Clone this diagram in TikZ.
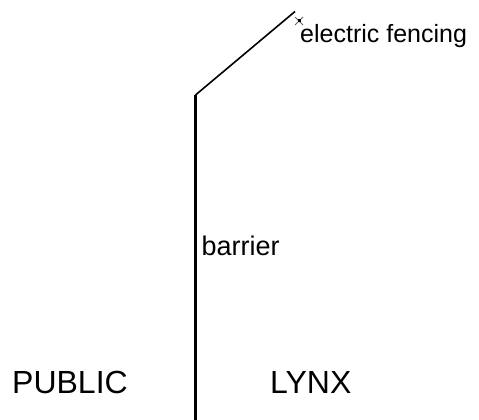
\documentclass[tikz,border=0pt]{standalone}
\usepackage{fontspec}
\setmainfont{Liberation Sans}
\usetikzlibrary{calc}
\begin{document}
\begin{tikzpicture}[x=1pt,y=-1pt,
  lbl/.style={inner sep=0pt,anchor=base west},
  wall/.style={line width=2.2pt,black},
  fence/.style={line width=1.6pt,black},
  markx/.style={line width=0.8pt,black!60}]
\useasboundingbox (0,0) rectangle (479,420);
\coordinate (bottom) at (195.5,420);
\coordinate (bend) at (195.5,95);
\coordinate (top) at (295,11.5);
\coordinate (mk) at (299,21);
\draw[wall] (bottom) -- (bend);
\draw[fence] (bend) -- (top);
\draw[markx] ($(mk)+(-4,-4)$) -- ($(mk)+(4,4)$) ($(mk)+(-4,4)$) -- ($(mk)+(4,-4)$);
\fill[black] ($(mk)+(-1.5,-1.5)$) rectangle ($(mk)+(1.5,1.5)$);
\node[lbl,font=\fontsize{25}{28}\selectfont] (ef) at (300,43) {electric fencing};
\node[lbl,font=\fontsize{27}{30}\selectfont] (bar) at (201.5,255) {barrier};
\node[lbl,font=\fontsize{32}{35}\selectfont] (pub) at (12,393.3) {PUBLIC};
\node[lbl,font=\fontsize{32}{35}\selectfont] (lynx) at (270,393.3) {LYNX};
\end{tikzpicture}
\end{document}
